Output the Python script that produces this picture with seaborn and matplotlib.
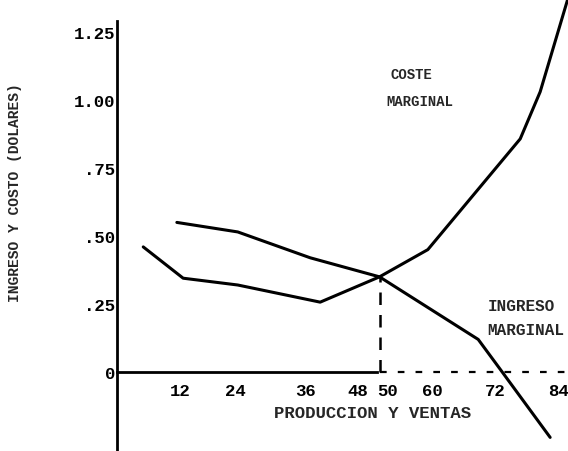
import matplotlib
matplotlib.use("Agg")
import matplotlib.pyplot as plt
import matplotlib.transforms as mtransforms
import numpy as np
import pandas as pd
import seaborn as sns

# -- Data ------------------------------------------------------------------
cost_x = [5, 12.6, 23, 38.7, 50, 59.2, 76.8, 80.6, 86]
cost_y = [0.46, 0.345, 0.32, 0.257, 0.35, 0.45, 0.857, 1.03, 1.38]

revenue_x = [11.4, 23, 36.8, 50, 68.8, 73, 82.5]
revenue_y = [0.55, 0.515, 0.42, 0.35, 0.12, 0.01, -0.24]

equilibrium_x = 50
equilibrium_y = 0.35

x_ticks = [12, 24, 36, 48, 50, 60, 72, 84]
y_ticks = [0, 0.25, 0.50, 0.75, 1.00, 1.25]
y_tick_labels = ["0", ".25", ".50", ".75", "1.00", "1.25"]

cost = pd.DataFrame({"x": cost_x, "y": cost_y})
revenue = pd.DataFrame({"x": revenue_x, "y": revenue_y})

# -- Setup -----------------------------------------------------------------
sns.set_theme(style="white")
plt.rcParams["font.family"] = ["Liberation Mono", "DejaVu Sans Mono"]
plt.rcParams["font.weight"] = "bold"

fig = plt.figure(figsize=(5.68, 4.52), dpi=100)
ax = fig.add_axes([117 / 568, 0, 1 - 117 / 568, 1])
ax.set_xlim(0, 85.9)
ax.set_ylim(-0.29, 1.371)

sns.lineplot(data=cost, x="x", y="y", color="black", linewidth=2.2,
             estimator=None, sort=False, ax=ax)
sns.lineplot(data=revenue, x="x", y="y", color="black", linewidth=2.2,
             estimator=None, sort=False, ax=ax)

# dashed guide down to the axis and dashed continuation of the axis
ax.plot([equilibrium_x, equilibrium_x], [0, equilibrium_y], color="black",
        linewidth=1.8, linestyle=(0, (5, 4)))
ax.plot([equilibrium_x, 86], [0, 0], color="black", linewidth=1.6,
        linestyle=(0, (3, 5)))

# -- Axes ------------------------------------------------------------------
for side in ["top", "right"]:
    ax.spines[side].set_visible(False)
ax.spines["left"].set_position(("data", 0))
ax.spines["left"].set_bounds(-0.29, 1.29)
ax.spines["bottom"].set_position(("data", 0))
ax.spines["bottom"].set_bounds(0, 49.5)
for side in ["left", "bottom"]:
    ax.spines[side].set_color("black")
    ax.spines[side].set_linewidth(2)

ax.set_xticks(x_ticks)
ax.set_xticklabels([str(t) for t in x_ticks])
ax.set_yticks(y_ticks)
ax.set_yticklabels(y_tick_labels)
ax.tick_params(axis="x", direction="in", length=6, width=1.8, pad=8,
               labelsize=12.5, colors="black")
ax.tick_params(axis="y", direction="in", length=7, width=1.8, pad=1,
               labelsize=12.5, colors="black")
ax.set_xlabel("")
ax.set_ylabel("")

# nudge crowded labels to where the original drawing puts them
shifts = {"24": -8, "48": -11, "50": 8}
for lab in ax.get_xticklabels():
    dx = shifts.get(lab.get_text(), 0)
    if dx:
        off = mtransforms.ScaledTranslation(dx / 100, 0, fig.dpi_scale_trans)
        lab.set_transform(lab.get_transform() + off)

# -- Text ------------------------------------------------------------------
ax.text(48.6, -0.147, "PRODUCCION Y VENTAS", ha="center", va="center",
        fontsize=12.5, fontweight="bold")
fig.text(15 / 568, 1 - 193 / 452, "INGRESO Y COSTO (DOLARES)", rotation=90,
         ha="center", va="center", fontsize=10.5, fontweight="bold")

ax.text(56.1, 1.096, "COSTE", ha="center", va="center", fontsize=10,
        fontweight="bold")
ax.text(57.6, 0.996, "MARGINAL", ha="center", va="center", fontsize=10,
        fontweight="bold")
ax.text(70.7, 0.243, "INGRESO", ha="left", va="center", fontsize=11.5,
        fontweight="bold")
ax.text(70.5, 0.158, "MARGINAL", ha="left", va="center", fontsize=11.5,
        fontweight="bold")

fig.savefig("out.png", dpi=100)
